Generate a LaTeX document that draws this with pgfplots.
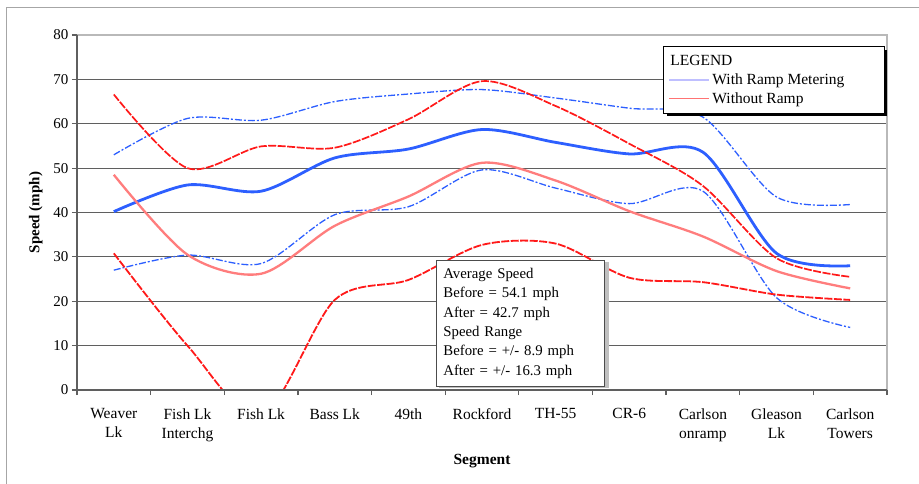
\documentclass[border=0pt]{standalone}
\usepackage{fontspec}
\setmainfont{Liberation Serif}
\usepackage{pgfplots}
\pgfplotsset{compat=1.18}
\definecolor{bl}{RGB}{45,95,255}
\definecolor{rd}{RGB}{255,25,25}
\definecolor{rdl}{RGB}{255,125,125}
\definecolor{gridc}{RGB}{95,95,95}
\begin{document}
\begin{tikzpicture}[x=1pt,y=1pt]
\useasboundingbox (0,0) rectangle (919,483);
\draw[gray!70, line width=0.8pt] (6,-10) -- (6,476) -- (930,476);
\begin{axis}[
  at={(77pt,93pt)}, anchor=south west,
  scale only axis, width=810pt, height=355pt,
  xmin=0, xmax=11, ymin=0, ymax=80,
  ytick={0,10,...,80},
  xtick={0.5,1.5,...,10.5},
  xticklabels={{Weaver\\Lk},{Fish Lk\\Interchg},{Fish Lk},{Bass Lk},{49th},{Rockford},{TH-55},{CR-6},{Carlson\\onramp},{Gleason\\Lk},{Carlson\\Towers}},
  minor xtick={0,1,...,11},
  major x tick style={draw=none},
  minor x tick style={gridc, line width=1.2pt},
  y tick style={gridc, line width=1.2pt},
  major tick length=5pt, minor tick length=5pt,
  tick pos=left, tick align=outside,
  ymajorgrids, grid style={gridc, line width=1pt},
  axis line style={draw=none},
  /pgf/number format/assume math mode=true,
  yticklabel style={font=\fontsize{15}{18}\selectfont},
  xticklabel style={align=center, font=\fontsize{15.5}{19}\selectfont, yshift=-10pt},
  ylabel={Speed (mph)},
  ylabel style={font=\bfseries\fontsize{15}{18}\selectfont, yshift=4pt},
  xlabel={Segment},
  xlabel style={font=\bfseries\fontsize{15.5}{18}\selectfont, yshift=-6pt},
  legend image code/.code={\draw[#1] (0pt,0pt) -- (40pt,0pt);},
  legend style={name=leg, at={(rel axis cs:0.7235,0.969)}, anchor=north west, draw=black, line width=0.8pt, fill=white,
    font=\fontsize{15.5}{18}\selectfont, inner xsep=5pt, inner ysep=7pt, row sep=2.5pt},
  legend cell align=left,
  after end axis/.code={
    \draw[gray!55, line width=1.2pt] (rel axis cs:0,1) -- (rel axis cs:1,1) -- (rel axis cs:1,0);
    \draw[gridc, line width=2pt] (rel axis cs:0,1) -- (rel axis cs:0,0) -- (rel axis cs:1,0);
  },
]
\addlegendimage{empty legend}\addlegendentry{\hspace*{-42pt}LEGEND}
\addlegendimage{draw=blue!25!white, line width=2pt}\addlegendentry{With Ramp Metering\hspace*{33pt}}
\addlegendimage{draw=red!55, line width=1.2pt}\addlegendentry{Without Ramp}

% With ramp metering: upper
\addplot[bl, line width=1.3pt, dash pattern=on 7pt off 2pt on 2pt off 2pt, smooth, forget plot] coordinates {
(0.5,53.0) (1.5,61.2) (2.5,60.8) (3.5,65.0) (4.5,66.7) (5.5,67.7) (6.5,65.8) (7.5,63.5) (8.5,61.5) (9.5,43.5) (10.5,41.8)};
% With ramp metering: average
\addplot[bl, line width=2.8pt, smooth, forget plot] coordinates {
(0.5,40.2) (1.5,46.2) (2.5,44.8) (3.5,52.3) (4.5,54.3) (5.5,58.7) (6.5,55.8) (7.5,53.2) (8.5,53.6) (9.5,30.8) (10.5,28.0)};
% With ramp metering: lower
\addplot[bl, line width=1.3pt, dash pattern=on 7pt off 2pt on 2pt off 2pt, smooth, forget plot] coordinates {
(0.5,27.0) (1.5,30.4) (2.5,28.5) (3.5,39.5) (4.5,41.3) (5.5,49.6) (6.5,45.5) (7.5,42.0) (8.5,44.8) (9.5,20.8) (10.5,14.1)};
% Without ramp: upper
\addplot[rd, line width=1.7pt, dash pattern=on 8pt off 1.5pt, smooth, forget plot] coordinates {
(0.5,66.6) (1.5,50.0) (2.5,54.9) (3.5,54.6) (4.5,61.0) (5.5,69.6) (6.5,64.0) (7.5,55.5) (8.5,46.0) (9.5,29.7) (10.5,25.5)};
% Without ramp: average
\addplot[rdl, line width=2.3pt, smooth, forget plot] coordinates {
(0.5,48.5) (1.5,30.5) (2.5,26.2) (3.5,37.0) (4.5,43.6) (5.5,51.2) (6.5,47.2) (7.5,40.3) (8.5,34.6) (9.5,26.8) (10.5,22.9)};
% Without ramp: lower
\addplot[rd, line width=1.8pt, dash pattern=on 8pt off 1.5pt, smooth, forget plot] coordinates {
(0.5,30.8) (1.5,10.0) (2.5,-6.0) (3.5,20.3) (4.5,24.8) (5.5,32.7) (6.5,33.0) (7.5,25.3) (8.5,24.3) (9.5,21.5) (10.5,20.3)};

\fill[gray!50] (axis cs:4.875,29.3) ++(3pt,-2pt) rectangle ++(170pt,-126pt);
\node[draw=black!70, line width=0.8pt, fill=white, anchor=north west, align=left,
  inner xsep=7pt, inner ysep=7pt, text width=154pt, minimum height=126pt, font=\fontsize{14.8}{19.3}\selectfont]
  at (axis cs:4.875,29.3) {Average Speed\\Before = 54.1 mph\\After = 42.7 mph\\Speed Range\\Before = +/- 8.9 mph\\After = +/- 16.3 mph};
\end{axis}
\draw[black, line width=2.2pt] ([xshift=1.1pt,yshift=-4pt]leg.north east) -- ([xshift=1.1pt,yshift=-1.1pt]leg.south east) -- ([xshift=4pt,yshift=-1.1pt]leg.south west);
\end{tikzpicture}
\end{document}
